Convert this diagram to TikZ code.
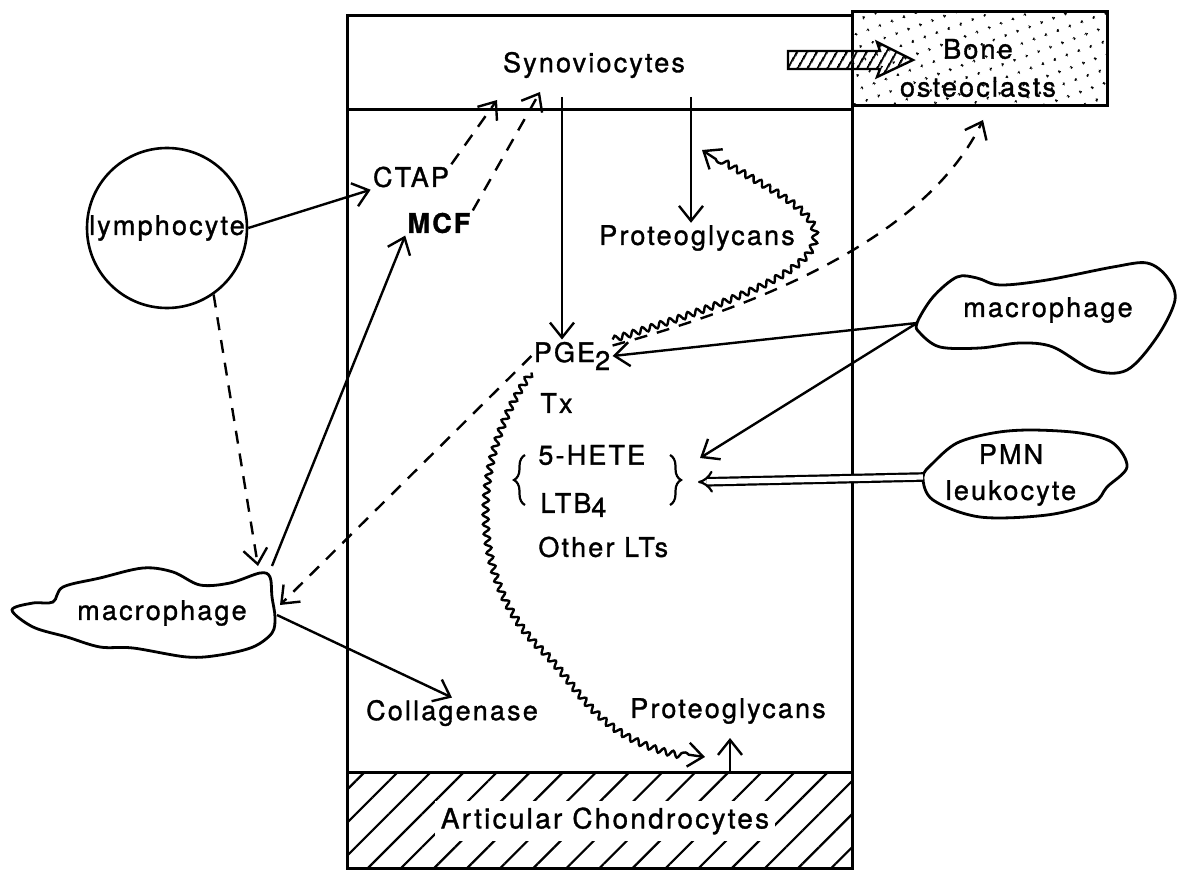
\documentclass[tikz,border=0pt]{standalone}
\usepackage{fontspec}
\setmainfont{TeX Gyre Heros}[LetterSpace=8, FakeBold=1.2]
\usetikzlibrary{arrows.meta,patterns.meta,decorations.pathmorphing,decorations.pathreplacing,calc}

\begin{document}
\begin{tikzpicture}[x=0.5pt, y=-0.5pt,
  lbl/.style={font=\fontsize{13.5}{15}\selectfont, inner sep=1pt},
  frame/.style={line width=1.5pt},
  blob/.style={line width=1.4pt},
  arr/.style={-{Straight Barb[length=7.5pt,width=12pt]}, line width=1.2pt},
  darr/.style={arr, dash pattern=on 6.5pt off 5pt},
  wavy/.style={arr, decorate, decoration={snake, amplitude=1.5pt, segment length=4.8pt, post length=7pt}},
  dbl/.style={double, double distance=2.6pt, line width=1.1pt, -{Implies}},
  brc/.style={line width=1.1pt, decorate, decoration={brace, amplitude=5.5pt}}]
\useasboundingbox (0,0) rectangle (1179,872);

% joint compartments
\draw[frame] (347,16) rectangle (852,868);
\draw[frame] (347,110) -- (852,110);
\draw[frame, pattern={Dots[radius=0.8pt, distance=6.5pt, angle=20]}] (852,12) rectangle (1107,106);
\draw[frame, pattern={Lines[angle=45, distance=11.7pt, line width=1.1pt]}] (347,772) rectangle (852,868);
\draw[line width=1.2pt, pattern={Lines[angle=60, distance=4pt, line width=1.1pt]}]
  (788,51) -- (880,51) -- (877,42) -- (913,60) -- (877,77) -- (880,69) -- (788,69) -- cycle;

% cells
\draw[blob] plot[smooth cycle, tension=0.55] coordinates {(917,323) (933,297) (957,277) (977,278) (1000,285) (1047,280) (1113,267) (1147,263) (1167,277) (1175,300) (1157,337) (1127,370) (1093,370) (1053,347) (1020,343) (980,348) (940,347) (920,333)};
\draw[blob] plot[smooth cycle, tension=0.55] coordinates {(923,477) (933,463) (957,443) (993,433) (1030,430) (1080,433) (1113,443) (1127,467) (1107,487) (1093,503) (1047,515) (980,517) (933,500)};
\draw[blob] plot[smooth cycle, tension=0.55] coordinates {(12,610) (33,603) (53,602) (63,587) (100,578) (143,568) (173,572) (200,585) (230,583) (260,573) (270,577) (272,597) (275,617) (272,633) (253,647) (220,655) (187,657) (133,648) (100,647) (67,637) (33,627)};

\node[lbl, circle, draw, line width=1.3pt, inner sep=0pt, minimum size=80pt] (lym) at (167,228) {lymphocyte};
\node[lbl] (macR) at (1048,310) {macrophage};
\node[lbl, align=center] (pmn) at (1011,475) {PMN\\[3pt]leukocyte};
\node[lbl] (macL) at (162,613) {macrophage};

% labels
\node[lbl] (syn) at (594,65) {Synoviocytes};
\node[lbl, align=center] (bone) at (978,68) {Bone\\[4pt]osteoclasts};
\node[lbl] (ctap) at (411,177) {CTAP};
\node[lbl, font=\fontsize{13.5}{15}\selectfont\bfseries] (mcf) at (439,223) {MCF};
\node[lbl] (protA) at (697,238) {Proteoglycans};
\node[lbl] (pge) at (572,356) {PGE\raisebox{-4pt}{2}};
\node[lbl, anchor=west] (tx) at (538,403) {Tx};
\node[lbl, anchor=west] (hete) at (536,455) {5-HETE};
\node[lbl, anchor=west] (ltb) at (538,505) {LTB\raisebox{-2pt}{4}};
\node[lbl, anchor=west] (lts) at (536,547) {Other LTs};
\node[lbl] (coll) at (452,713) {Collagenase};
\node[lbl] (protB) at (728,711) {Proteoglycans};
\node[lbl, fill=white, inner sep=3pt, font=\fontsize{14}{16}\selectfont] (art) at (605,821) {Articular Chondrocytes};

\draw[brc] (525,505) -- (525,455);
\draw[brc] (670,455) -- (670,505);

\coordinate (synA) at (497,100);
\coordinate (synB) at (540,92);
\coordinate (synC) at (562,97);
\coordinate (synD) at (691,97);
\coordinate (macR-w) at (917,323);
\coordinate (pmn-w) at (923,477);
\coordinate (grpR) at (698,482);
\coordinate (grpRu) at (700,458);
\coordinate (macL-n) at (258,566);
\coordinate (macL-ne) at (272,566);
\coordinate (macL-e) at (280,605);
\coordinate (macL-e2) at (277,615);
\coordinate (protAtop) at (702,150);
\coordinate (boneIn) at (983,120);
\coordinate (protBin) at (705,757);
\coordinate (chondTop) at (730,772);

% connectors
\draw[arr] (lym.east) -- (ctap.south west);
\draw[darr] (ctap.north east) -- (synA);
\draw[darr] (mcf.north east) -- (synB);
\draw[arr] (synC) -- (synC |- pge.north);
\draw[arr] (synD) -- (synD |- protA.north);
\draw[arr] (macR-w) -- (pge.east);
\draw[arr] (macR-w) -- (grpRu);
\draw[dbl] (pmn-w) -- (grpR);
\draw[darr] (lym.-55) -- (macL-n);
\draw[arr] (macL-ne) -- (mcf.south west);
\draw[darr] (pge.west) -- (macL-e);
\draw[arr] (macL-e2) -- (coll.north);
\draw[wavy] (pge.north east) .. controls (740,300) and (815,270) .. (813,235)
  .. controls (812,205) and (745,180) .. (protAtop);
\draw[darr] ($(pge.north east)+(0,6)$) .. controls (780,300) and (930,230) .. (boneIn);
\draw[wavy] (pge.south west) .. controls (470,460) and (470,580) .. (545,650)
  .. controls (585,690) and (600,745) .. (protBin);
\draw[arr] (chondTop) -- ++(0,-34);
\end{tikzpicture}
\end{document}
